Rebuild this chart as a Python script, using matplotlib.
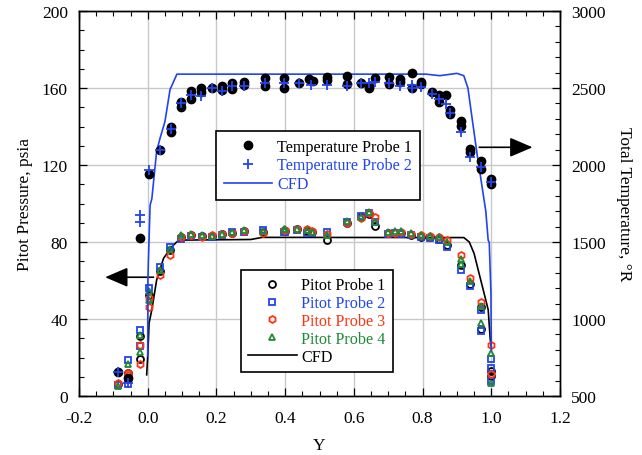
import matplotlib
matplotlib.use("Agg")
import matplotlib.pyplot as plt
from matplotlib.ticker import MultipleLocator

plt.rcParams['font.family'] = ['Liberation Serif', 'DejaVu Serif']
plt.rcParams['mathtext.fontset'] = 'stix'

# ---------------- data ----------------
# Pitot probe stations (Y) and pressures (psia)
y_pitot = [-0.087, -0.056, -0.022, 0.004, 0.036, 0.065, 0.097, 0.125, 0.158, 0.187,
           0.216, 0.245, 0.279, 0.337, 0.396, 0.40, 0.435, 0.464, 0.478, 0.522,
           0.58, 0.62, 0.644, 0.661, 0.70, 0.72, 0.736, 0.765, 0.794, 0.823,
           0.848, 0.872, 0.911, 0.938, 0.969, 1.0]
p_probe1 = [6.0, 12.0, 31.0, 52.6, 64.7, 75.8, 82.8, 83.6, 83.0, 83.0,
            84.0, 84.6, 85.5, 85.3, 85.5, 85.8, 86.5, 85.5, 85.0, 81.0,
            90.0, 92.8, 94.5, 88.2, 84.5, 84.8, 84.5, 83.6, 82.6, 82.5,
            81.5, 78.5, 68.0, 58.0, 46.0, 12.9]
p_probe2 = [5.5, 18.5, 34.5, 56.0, 67.2, 77.5, 81.3, 83.0, 82.5, 82.8,
            83.8, 85.0, 85.2, 86.4, 85.0, 85.4, 86.0, 84.5, 84.8, 85.3,
            90.5, 93.5, 95.0, 90.5, 84.0, 84.5, 84.0, 83.8, 82.8, 82.0,
            81.0, 77.5, 65.4, 56.9, 44.8, 19.0]
p_probe3 = [7.0, 11.0, 26.7, 46.2, 63.0, 73.3, 82.4, 83.6, 82.8, 83.5,
            84.2, 84.5, 85.8, 84.8, 86.0, 86.0, 86.8, 87.0, 85.5, 84.0,
            90.0, 92.5, 95.0, 93.0, 84.8, 84.8, 85.0, 84.0, 83.5, 83.0,
            82.5, 81.0, 73.2, 61.2, 49.0, 26.4]
p_probe4 = [5.0, 16.4, 31.9, 54.3, 65.5, 76.2, 83.6, 84.4, 83.5, 83.2,
            84.4, 85.2, 86.0, 85.5, 86.5, 87.0, 87.0, 86.0, 85.2, 83.6,
            91.0, 93.0, 95.6, 90.4, 85.0, 85.5, 85.5, 84.5, 83.8, 83.0,
            82.5, 80.0, 71.0, 59.5, 47.0, 22.4]
# repeat readings
y_rep1 = [-0.056, -0.022, 0.969, 1.0]
p_rep1 = [9.5, 19.0, 35.0, 10.5]
y_rep2 = [-0.056, -0.022, 0.969, 1.0, 1.0]
p_rep2 = [6.0, 26.0, 33.6, 14.8, 7.8]
y_rep3 = [-0.056, -0.022, 0.004, 1.0]
p_rep3 = [12.2, 16.4, 50.9, 11.2]
y_rep4 = [-0.022, 0.004, 0.911, 0.969, 1.0]
p_rep4 = [22.6, 50.0, 68.5, 37.9, 7.0]

# CFD pitot pressure
y_cfd_p = [-0.003, 0.0, 0.004, 0.012, 0.026, 0.046, 0.07, 0.085, 0.1, 0.3,
           0.333, 0.92, 0.936, 0.95, 0.964, 0.979, 0.991, 0.997, 1.0]
p_cfd = [11.0, 20.7, 37.9, 44.8, 60.3, 71.5, 77.5, 80.1, 81.0, 81.3,
         82.4, 82.3, 80.0, 74.0, 64.0, 53.4, 44.8, 29.3, 25.8]

# Temperature probes (Y, deg R)
y_tp1 = [-0.087, -0.056, -0.022, 0.004, 0.036, 0.067, 0.067, 0.097, 0.097, 0.126,
         0.126, 0.156, 0.156, 0.187, 0.216, 0.216, 0.245, 0.245, 0.281, 0.281,
         0.342, 0.342, 0.396, 0.396, 0.44, 0.47, 0.48, 0.523, 0.523, 0.581,
         0.581, 0.622, 0.644, 0.644, 0.661, 0.702, 0.702, 0.734, 0.734, 0.768,
         0.768, 0.796, 0.796, 0.826, 0.848, 0.848, 0.867, 0.879, 0.879, 0.911,
         0.911, 0.938, 0.938, 0.969, 0.969, 1.0, 1.0]
t_tp1 = [655, 620, 1527, 1943, 2100, 2244, 2212, 2406, 2374, 2480,
         2428, 2503, 2476, 2503, 2515, 2490, 2530, 2492, 2540, 2520,
         2567, 2514, 2564, 2503, 2530, 2557, 2546, 2572, 2550, 2578,
         2529, 2530, 2515, 2500, 2563, 2571, 2525, 2560, 2540, 2600,
         2500, 2540, 2525, 2476, 2455, 2406, 2455, 2356, 2331, 2287,
         2255, 2105, 2083, 2029, 1975, 1911, 1879]
y_tp2 = [-0.087, -0.056, -0.022, -0.022, 0.004, 0.036, 0.067, 0.097, 0.126, 0.156,
         0.187, 0.216, 0.245, 0.281, 0.342, 0.396, 0.44, 0.475, 0.523, 0.581,
         0.622, 0.644, 0.661, 0.702, 0.734, 0.768, 0.768, 0.796, 0.826, 0.848,
         0.867, 0.879, 0.911, 0.938, 0.969, 1.0]
t_tp2 = [655, 583, 1674, 1630, 1969, 2100, 2235, 2400, 2455, 2449,
         2500, 2478, 2510, 2515, 2535, 2530, 2530, 2520, 2520, 2510,
         2535, 2530, 2540, 2530, 2515, 2520, 2500, 2505, 2460, 2430,
         2395, 2340, 2212, 2055, 1990, 1890]

# CFD total temperature
y_cfd_t = [0.0, 0.0005, 0.002, 0.007, 0.012, 0.026, 0.036, 0.05, 0.065, 0.085,
           0.5, 0.81, 0.85, 0.9, 0.92, 0.932, 0.945, 0.96, 0.969, 0.984,
           0.991, 0.994, 0.999, 1.0]
t_cfd = [760, 1250, 1380, 1740, 1780, 2090, 2175, 2280, 2490, 2590,
         2590, 2590, 2580, 2595, 2580, 2500, 2290, 2050, 1920, 1700,
         1510, 1500, 1170, 800]

x_ticks = [-0.2, 0.0, 0.2, 0.4, 0.6, 0.8, 1.0, 1.2]
x_ticklabels = ['-0.2', '0.0', '0.2', '0.4', '0.6', '0.8', '1.0', '1.2']

# ---------------- styles ----------------
BLUE = '#2244ee'
RED = '#ff3311'
GREEN = '#1e8a36'
FS = 12.5

fig = plt.figure(figsize=(6.42, 4.56), dpi=100)
ax = fig.add_axes([79 / 642, 1 - 397 / 456, (560 - 79) / 642, (397 - 12) / 456])
ax2 = ax.twinx()

ax.plot(y_cfd_p, p_cfd, color='black', lw=1.2, zorder=2)
mk = dict(ls='none', mfc='none', ms=5, mew=1.3, zorder=3)
ax.plot(y_pitot + y_rep1, p_probe1 + p_rep1, marker='o', mec='black', **mk)
ax.plot(y_pitot + y_rep2, p_probe2 + p_rep2, marker='s', mec=BLUE, **mk)
ax.plot(y_pitot + y_rep3, p_probe3 + p_rep3, marker='h', mec=RED, **mk)
ax.plot(y_pitot + y_rep4, p_probe4 + p_rep4, marker='^', mec=GREEN, **mk)

ax2.plot(y_cfd_t, t_cfd, color=BLUE, lw=1.2, zorder=2)
ax2.plot(y_tp1, t_tp1, ls='none', marker='o', color='black', ms=6, zorder=3)
ax2.plot(y_tp2, t_tp2, ls='none', marker='+', color=BLUE, ms=6.5, mew=1.3, zorder=4)

ax.set_xlim(-0.2, 1.2)
ax.set_ylim(0, 200)
ax2.set_ylim(500, 3000)

ax.set_xticks(x_ticks)
ax.set_xticklabels(x_ticklabels)
ax.xaxis.set_minor_locator(MultipleLocator(0.05))
ax.yaxis.set_major_locator(MultipleLocator(40))
ax.yaxis.set_minor_locator(MultipleLocator(10))
ax2.yaxis.set_major_locator(MultipleLocator(500))
ax2.yaxis.set_minor_locator(MultipleLocator(100))

ax.tick_params(which='both', direction='in', top=True, right=False, labelsize=FS)
ax.tick_params(axis='x', which='major', length=6, width=0.9, pad=10)
ax.tick_params(axis='y', which='major', length=6, width=0.9, pad=8)
ax.tick_params(which='minor', length=3.5, width=0.8)
ax2.tick_params(which='both', direction='in', labelsize=FS)
ax2.tick_params(which='major', length=6, width=0.9, pad=8)
ax2.tick_params(which='minor', length=3.5, width=0.8)

ax.grid(True, which='major', color='#c8c8c8', lw=1.0)
ax.set_axisbelow(True)
for a in (ax, ax2):
    for s in a.spines.values():
        s.set_linewidth(1.0)

ax.set_xlabel('Y', fontsize=FS, labelpad=8)
ax.set_ylabel('Pitot Pressure, psia', fontsize=FS, labelpad=6)
ax2.set_ylabel('Total Temperature, °R', fontsize=FS, rotation=270, labelpad=19)

# arrows
ax.annotate('', xy=(-0.124, 61.7), xytext=(0.017, 61.7),
            arrowprops=dict(arrowstyle='-|>,head_length=0.7,head_width=0.3',
                            color='black', lw=1.2, mutation_scale=20, shrinkA=0, shrinkB=0))
ax.annotate('', xy=(1.12, 129.2), xytext=(0.965, 129.2),
            arrowprops=dict(arrowstyle='-|>,head_length=0.7,head_width=0.3',
                            color='black', lw=1.2, mutation_scale=20, shrinkA=0, shrinkB=0))

# legends
LFS = 11.6
h = ax2.get_lines()
leg1 = ax2.legend([h[1], h[2], h[0]], ['Temperature Probe 1', 'Temperature Probe 2', 'CFD'],
                  loc='upper left', bbox_to_anchor=(216 / 642, 1 - 131.7 / 456),
                  bbox_transform=fig.transFigure, fontsize=LFS, frameon=True,
                  fancybox=False, edgecolor='black', framealpha=1, borderaxespad=0,
                  handlelength=3.0, labelspacing=0.17, borderpad=0.5, numpoints=1,
                  handletextpad=0.3)
leg1.get_frame().set_linewidth(1.2)
for t, c in zip(leg1.get_texts(), ['black', BLUE, BLUE]):
    t.set_color(c)
ax2.add_artist(leg1)

hp = ax.get_lines()
leg2 = ax2.legend([hp[1], hp[2], hp[3], hp[4], hp[0]],
                  ['Pitot Probe 1', 'Pitot Probe 2', 'Pitot Probe 3', 'Pitot Probe 4', 'CFD'],
                  loc='upper left', bbox_to_anchor=(241 / 642, 1 - 271 / 456),
                  bbox_transform=fig.transFigure, fontsize=LFS, frameon=True,
                  fancybox=False, edgecolor='black', framealpha=1, borderaxespad=0,
                  handlelength=3.0, labelspacing=0.12, borderpad=0.45, numpoints=1,
                  handletextpad=0.3)
leg2.get_frame().set_linewidth(1.2)
for t, c in zip(leg2.get_texts(), ['black', BLUE, RED, GREEN, 'black']):
    t.set_color(c)

fig.savefig('out.png', dpi=100)
